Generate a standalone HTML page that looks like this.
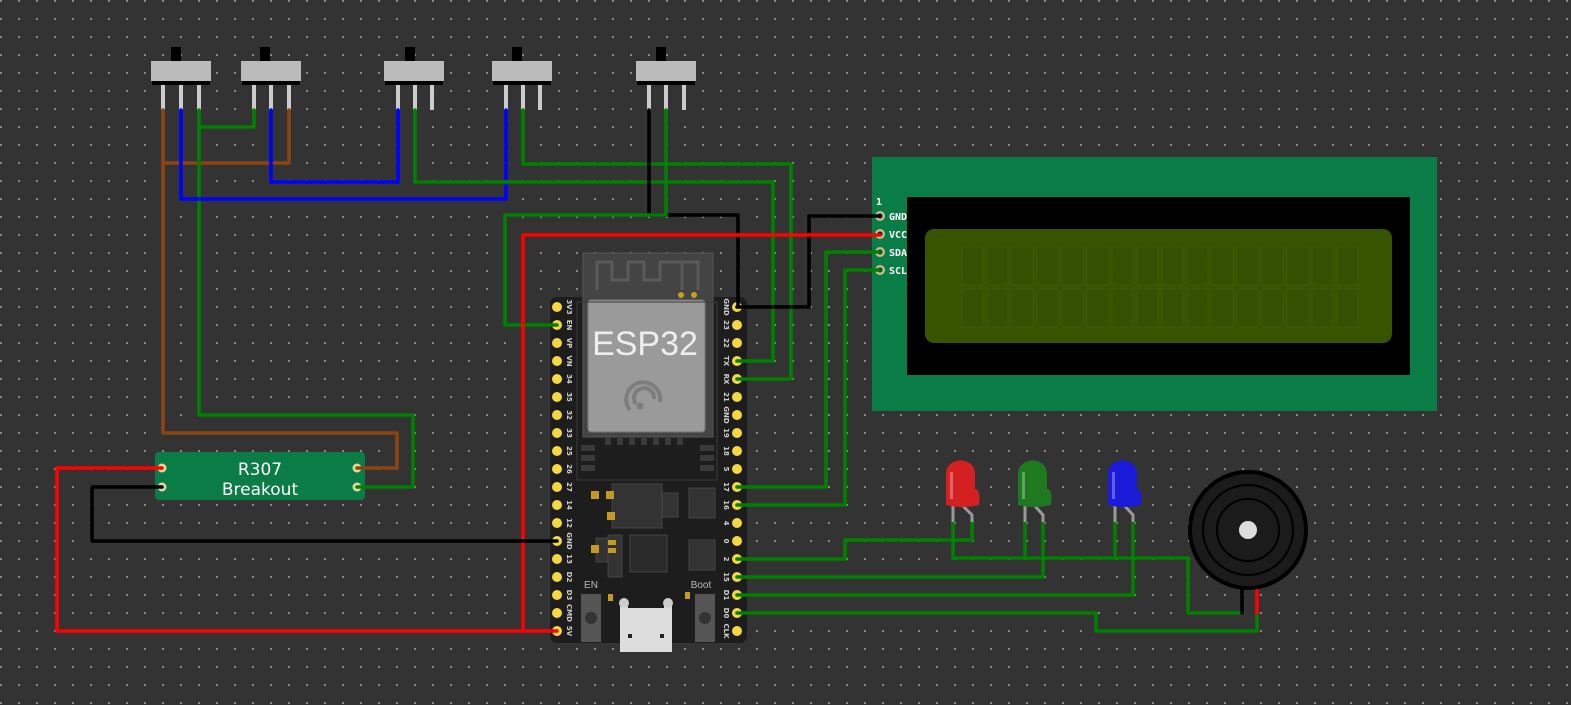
<!DOCTYPE html>
<html><head><meta charset="utf-8">
<style>
html,body{margin:0;padding:0;background:#333;}
body{width:1571px;height:705px;overflow:hidden;
background-color:#333333;
background-image:radial-gradient(circle,#8a8a8a 1px,transparent 1.3px);
background-size:18px 18px;background-position:-8px -8px;}
svg{position:absolute;left:0;top:0;}
.pl{font-family:"DejaVu Sans","Liberation Sans",sans-serif;font-size:7px;fill:#cfcfcf;font-weight:bold;}
</style></head><body>
<svg width="1571" height="705" viewBox="0 0 1571 705" xmlns="http://www.w3.org/2000/svg">
<!-- LCD -->
<rect x="872" y="157" width="565" height="254" fill="#0a7c45"/>
<rect x="907" y="197" width="503" height="178" fill="#000"/>
<rect x="925" y="229" width="467" height="114" rx="9" fill="#375400"/>
<g fill="#345000" stroke="#3d5b05" stroke-width="1">
<rect x="962" y="247" width="21" height="38"/><rect x="987" y="247" width="21" height="38"/><rect x="1012" y="247" width="21" height="38"/><rect x="1037" y="247" width="21" height="38"/><rect x="1062" y="247" width="21" height="38"/><rect x="1087" y="247" width="21" height="38"/><rect x="1112" y="247" width="21" height="38"/><rect x="1137" y="247" width="21" height="38"/><rect x="1162" y="247" width="21" height="38"/><rect x="1187" y="247" width="21" height="38"/><rect x="1212" y="247" width="21" height="38"/><rect x="1237" y="247" width="21" height="38"/><rect x="1262" y="247" width="21" height="38"/><rect x="1287" y="247" width="21" height="38"/><rect x="1312" y="247" width="21" height="38"/><rect x="1337" y="247" width="21" height="38"/>
<rect x="962" y="289" width="21" height="38"/><rect x="987" y="289" width="21" height="38"/><rect x="1012" y="289" width="21" height="38"/><rect x="1037" y="289" width="21" height="38"/><rect x="1062" y="289" width="21" height="38"/><rect x="1087" y="289" width="21" height="38"/><rect x="1112" y="289" width="21" height="38"/><rect x="1137" y="289" width="21" height="38"/><rect x="1162" y="289" width="21" height="38"/><rect x="1187" y="289" width="21" height="38"/><rect x="1212" y="289" width="21" height="38"/><rect x="1237" y="289" width="21" height="38"/><rect x="1262" y="289" width="21" height="38"/><rect x="1287" y="289" width="21" height="38"/><rect x="1312" y="289" width="21" height="38"/><rect x="1337" y="289" width="21" height="38"/>
</g>
<g fill="#c8b98a"><circle cx="880" cy="216" r="5"/><circle cx="880" cy="234" r="5"/><circle cx="880" cy="252" r="5"/><circle cx="880" cy="270" r="5"/></g>
<g fill="#111"><circle cx="880" cy="216" r="2.5"/><circle cx="880" cy="234" r="2.5"/><circle cx="880" cy="252" r="2.5"/><circle cx="880" cy="270" r="2.5"/></g>
<g font-family="DejaVu Sans Mono,Liberation Mono,monospace" font-size="10" font-weight="bold" fill="#fff">
<text x="876" y="205">1</text><text x="889" y="220">GND</text><text x="889" y="238">VCC</text><text x="889" y="256">SDA</text><text x="889" y="274">SCL</text></g>

<!-- R307 -->
<rect x="155" y="452" width="210" height="48" rx="4" fill="#0a7c45"/>
<text x="260" y="475" text-anchor="middle" font-family="DejaVu Sans,Liberation Sans,sans-serif" font-size="17" fill="#fff">R307</text>
<text x="260" y="495" text-anchor="middle" font-family="DejaVu Sans,Liberation Sans,sans-serif" font-size="17" fill="#fff">Breakout</text>
<g fill="#e8d89a"><circle cx="162" cy="468" r="4.5"/><circle cx="162" cy="487" r="4.5"/><circle cx="357" cy="468" r="4.5"/><circle cx="357" cy="487" r="4.5"/></g>

<!-- ESP32 board -->
<rect x="550" y="297" width="197" height="346" rx="7" fill="#1d1d1d"/>
<rect x="583" y="253" width="130" height="184" fill="#444" stroke="#555" stroke-width="1"/>
<path d="M597 290 V262 H612 V280 H628 V262 H644 V280 H660 V262 H698 V290 M682 262 V290" fill="none" stroke="#5a5a5a" stroke-width="3"/>
<circle cx="681" cy="295" r="3" fill="#c8a020"/><circle cx="694" cy="295" r="3" fill="#c8a020"/>
<rect x="588" y="300" width="117" height="132" rx="3" fill="#9a9a9a" stroke="#777"/>
<text x="645" y="355" text-anchor="middle" font-family="Liberation Sans,sans-serif" font-size="34" fill="#eee">ESP32</text>
<g fill="none" stroke="#7d7d7d" stroke-width="4"><path d="M630 410 a17 17 0 1 1 30 -8"/><path d="M636 404 a10 10 0 1 1 18 -5"/></g>
<circle cx="640" cy="406" r="3.5" fill="#7d7d7d"/>
<g fill="#3a3a3a"><rect x="605" y="438" width="6" height="7"/><rect x="617" y="438" width="6" height="7"/><rect x="629" y="438" width="6" height="7"/><rect x="641" y="438" width="6" height="7"/><rect x="653" y="438" width="6" height="7"/><rect x="665" y="438" width="6" height="7"/><rect x="677" y="438" width="6" height="7"/>
<rect x="581" y="445" width="14" height="6"/><rect x="581" y="455" width="14" height="6"/><rect x="581" y="465" width="14" height="6"/><rect x="700" y="445" width="14" height="6"/><rect x="700" y="455" width="14" height="6"/><rect x="700" y="465" width="14" height="6"/></g>
<rect x="577" y="302" width="140" height="178" fill="none" stroke="#3a3a3a"/>
<g fill="#333" stroke="#444"><rect x="612" y="484" width="50" height="44"/><rect x="662" y="493" width="16" height="24"/><rect x="689" y="488" width="26" height="30"/><rect x="689" y="540" width="26" height="30"/><rect x="630" y="535" width="37" height="37" fill="#2a2a2a"/><rect x="596" y="538" width="14" height="24"/><rect x="608" y="535" width="14" height="42"/></g>
<g fill="#c49a20"><rect x="591" y="491" width="8" height="8"/><rect x="606" y="491" width="8" height="8"/><rect x="607" y="512" width="8" height="8"/><rect x="591" y="545" width="8" height="8"/><rect x="608" y="540" width="8" height="5"/><rect x="608" y="548" width="8" height="5"/><rect x="608" y="594" width="5" height="7"/><rect x="685" y="592" width="5" height="7"/></g>
<text x="591" y="588" text-anchor="middle" font-family="Liberation Sans,sans-serif" font-size="10" fill="#bbb">EN</text>
<text x="701" y="588" text-anchor="middle" font-family="Liberation Sans,sans-serif" font-size="10" fill="#bbb">Boot</text>
<rect x="581" y="594" width="20" height="48" fill="#555"/><circle cx="591" cy="618" r="6" fill="#333"/>
<rect x="695" y="594" width="20" height="48" fill="#555"/><circle cx="705" cy="618" r="6" fill="#333"/>
<path d="M620 600 h8 v8 h36 v-8 h8 v52 h-52z" fill="#ddd"/>
<circle cx="624" cy="603" r="5" fill="#ccc"/><circle cx="668" cy="603" r="5" fill="#ccc"/>
<rect x="628" y="634" width="4" height="4" fill="#222"/><rect x="660" y="634" width="4" height="4" fill="#222"/>
<g fill="#f5d742">
<circle cx="557" cy="307" r="5"/><circle cx="557" cy="325" r="5"/><circle cx="557" cy="343" r="5"/><circle cx="557" cy="361" r="5"/><circle cx="557" cy="379" r="5"/><circle cx="557" cy="397" r="5"/><circle cx="557" cy="415" r="5"/><circle cx="557" cy="433" r="5"/><circle cx="557" cy="451" r="5"/><circle cx="557" cy="469" r="5"/><circle cx="557" cy="487" r="5"/><circle cx="557" cy="505" r="5"/><circle cx="557" cy="523" r="5"/><circle cx="557" cy="541" r="5"/><circle cx="557" cy="559" r="5"/><circle cx="557" cy="577" r="5"/><circle cx="557" cy="595" r="5"/><circle cx="557" cy="613" r="5"/><circle cx="557" cy="631" r="5"/>
<circle cx="737" cy="307" r="5"/><circle cx="737" cy="325" r="5"/><circle cx="737" cy="343" r="5"/><circle cx="737" cy="361" r="5"/><circle cx="737" cy="379" r="5"/><circle cx="737" cy="397" r="5"/><circle cx="737" cy="415" r="5"/><circle cx="737" cy="433" r="5"/><circle cx="737" cy="451" r="5"/><circle cx="737" cy="469" r="5"/><circle cx="737" cy="487" r="5"/><circle cx="737" cy="505" r="5"/><circle cx="737" cy="523" r="5"/><circle cx="737" cy="541" r="5"/><circle cx="737" cy="559" r="5"/><circle cx="737" cy="577" r="5"/><circle cx="737" cy="595" r="5"/><circle cx="737" cy="613" r="5"/><circle cx="737" cy="631" r="5"/>
</g>
<g class="pl" text-anchor="middle">
<text transform="translate(567,307) rotate(90)">3V3</text><text transform="translate(567,325) rotate(90)">EN</text><text transform="translate(567,343) rotate(90)">VP</text><text transform="translate(567,361) rotate(90)">VN</text><text transform="translate(567,379) rotate(90)">34</text><text transform="translate(567,397) rotate(90)">35</text><text transform="translate(567,415) rotate(90)">32</text><text transform="translate(567,433) rotate(90)">33</text><text transform="translate(567,451) rotate(90)">25</text><text transform="translate(567,469) rotate(90)">26</text><text transform="translate(567,487) rotate(90)">27</text><text transform="translate(567,505) rotate(90)">14</text><text transform="translate(567,523) rotate(90)">12</text><text transform="translate(567,541) rotate(90)">GND</text><text transform="translate(567,559) rotate(90)">13</text><text transform="translate(567,577) rotate(90)">D2</text><text transform="translate(567,595) rotate(90)">D3</text><text transform="translate(567,613) rotate(90)">CMD</text><text transform="translate(567,631) rotate(90)">5V</text>
<text transform="translate(724,307) rotate(90)">GND</text><text transform="translate(724,325) rotate(90)">23</text><text transform="translate(724,343) rotate(90)">22</text><text transform="translate(724,361) rotate(90)">TX</text><text transform="translate(724,379) rotate(90)">RX</text><text transform="translate(724,397) rotate(90)">21</text><text transform="translate(724,415) rotate(90)">GND</text><text transform="translate(724,433) rotate(90)">19</text><text transform="translate(724,451) rotate(90)">18</text><text transform="translate(724,469) rotate(90)">5</text><text transform="translate(724,487) rotate(90)">17</text><text transform="translate(724,505) rotate(90)">16</text><text transform="translate(724,523) rotate(90)">4</text><text transform="translate(724,541) rotate(90)">0</text><text transform="translate(724,559) rotate(90)">2</text><text transform="translate(724,577) rotate(90)">15</text><text transform="translate(724,595) rotate(90)">D1</text><text transform="translate(724,613) rotate(90)">D0</text><text transform="translate(724,631) rotate(90)">CLK</text>
</g>

<!-- Switches -->
<g fill="#ccc">
<rect x="161" y="84" width="4" height="26"/><rect x="179" y="84" width="4" height="26"/><rect x="197" y="84" width="4" height="26"/>
<rect x="252" y="84" width="4" height="26"/><rect x="269" y="84" width="4" height="26"/><rect x="287" y="84" width="4" height="26"/>
<rect x="396" y="84" width="4" height="26"/><rect x="413" y="84" width="4" height="26"/><rect x="430" y="84" width="4" height="26"/>
<rect x="504" y="84" width="4" height="26"/><rect x="521" y="84" width="4" height="26"/><rect x="538" y="84" width="4" height="26"/>
<rect x="647" y="84" width="4" height="26"/><rect x="664" y="84" width="4" height="26"/><rect x="682" y="84" width="4" height="26"/>
</g>
<g fill="#000"><rect x="171" y="47" width="10" height="15"/><rect x="260" y="47" width="10" height="15"/><rect x="405" y="47" width="10" height="15"/><rect x="512" y="47" width="10" height="15"/><rect x="656" y="47" width="10" height="15"/>
<rect x="152" y="80" width="58" height="5"/><rect x="242" y="80" width="58" height="5"/><rect x="385" y="80" width="58" height="5"/><rect x="493" y="80" width="58" height="5"/><rect x="637" y="80" width="58" height="5"/></g>
<g fill="#bbb"><rect x="151" y="61" width="60" height="20"/><rect x="241" y="61" width="60" height="20"/><rect x="384" y="61" width="60" height="20"/><rect x="492" y="61" width="60" height="20"/><rect x="636" y="61" width="60" height="20"/></g>

<!-- Wires -->
<g fill="none" stroke-width="3.6" stroke-linejoin="round" stroke-linecap="round">
<path stroke="#8b4513" d="M163 110 V163 H289 V110"/>
<path stroke="#8b4513" d="M163 163 V433 H397 V468 H357"/>
<path stroke="#008000" d="M199 110 V127 H254 V110"/>
<path stroke="#008000" d="M199 127 V415 H413 V487 H357"/>
<path stroke="#0000ff" d="M181 110 V199 H506 V110"/>
<path stroke="#0000ff" d="M271 110 V182 H398 V110"/>
<path stroke="#008000" d="M415 110 V182 H773 V361 H737"/>
<path stroke="#008000" d="M523 110 V164 H791 V379 H737"/>
<path stroke="#000" d="M649 110 V215 H738 V307"/>
<path stroke="#008000" d="M666 110 V215 H505 V325 H557"/>
<path stroke="#000" d="M737 307 H809 V216 H880"/>
<path stroke="#ff0000" d="M880 235 H523 V631 H557"/>
<path stroke="#ff0000" d="M162 468 H57 V631 H523"/>
<path stroke="#000" d="M162 487 H92 V541 H557"/>
<path stroke="#008000" d="M880 252 H826 V487 H737"/>
<path stroke="#008000" d="M880 270 H845 V505 H737"/>
<path stroke="#008000" d="M737 559 H845 V540 H972 V522"/>
<path stroke="#008000" d="M953 522 V558 H1188 V613 H1242"/>
<path stroke="#008000" d="M1025 522 V558"/>
<path stroke="#008000" d="M1115 522 V558"/>
<path stroke="#008000" d="M737 577 H1043 V522"/>
<path stroke="#008000" d="M737 595 H1133 V522"/>
<path stroke="#008000" d="M737 613 H1096 V631 H1257 V613"/>
<path stroke="#000" d="M1242 586 V613"/>
<path stroke="#ff0000" d="M1257 586 V613"/>
</g>

<!-- LEDs -->
<g stroke="#999" stroke-width="3" fill="none">
<path d="M953 505 V522"/><path d="M962 505 L972 515 V522"/>
<path d="M1025 505 V522"/><path d="M1034 505 L1043 515 V522"/>
<path d="M1115 505 V522"/><path d="M1124 505 L1133 515 V522"/>
</g>
<g>
<path d="M946 505 V474 C946 456 975 456 975 474 V489 C980 490 980 496 979 505 Q962 509 946 505 z" fill="#d42020"/>
<path d="M1018 505 V474 C1018 456 1047 456 1047 474 V489 C1052 490 1052 496 1051 505 Q1034 509 1018 505 z" fill="#1f7a1f"/>
<path d="M1108 505 V474 C1108 456 1137 456 1137 474 V489 C1142 490 1142 496 1141 505 Q1124 509 1108 505 z" fill="#1a1ad8"/>
<g fill="#fff" opacity="0.3"><rect x="950" y="472" width="3" height="27"/><rect x="1022" y="472" width="3" height="27"/><rect x="1112" y="472" width="3" height="27"/></g>
</g>

<!-- Buzzer -->
<circle cx="1248" cy="530" r="58" fill="#1b1b1b" stroke="#000" stroke-width="4"/>
<circle cx="1248" cy="530" r="45" fill="none" stroke="#000" stroke-width="2"/>
<circle cx="1248" cy="530" r="31" fill="none" stroke="#000" stroke-width="2"/>
<circle cx="1248" cy="530" r="9" fill="#ddd"/>
</svg>
</body></html>
